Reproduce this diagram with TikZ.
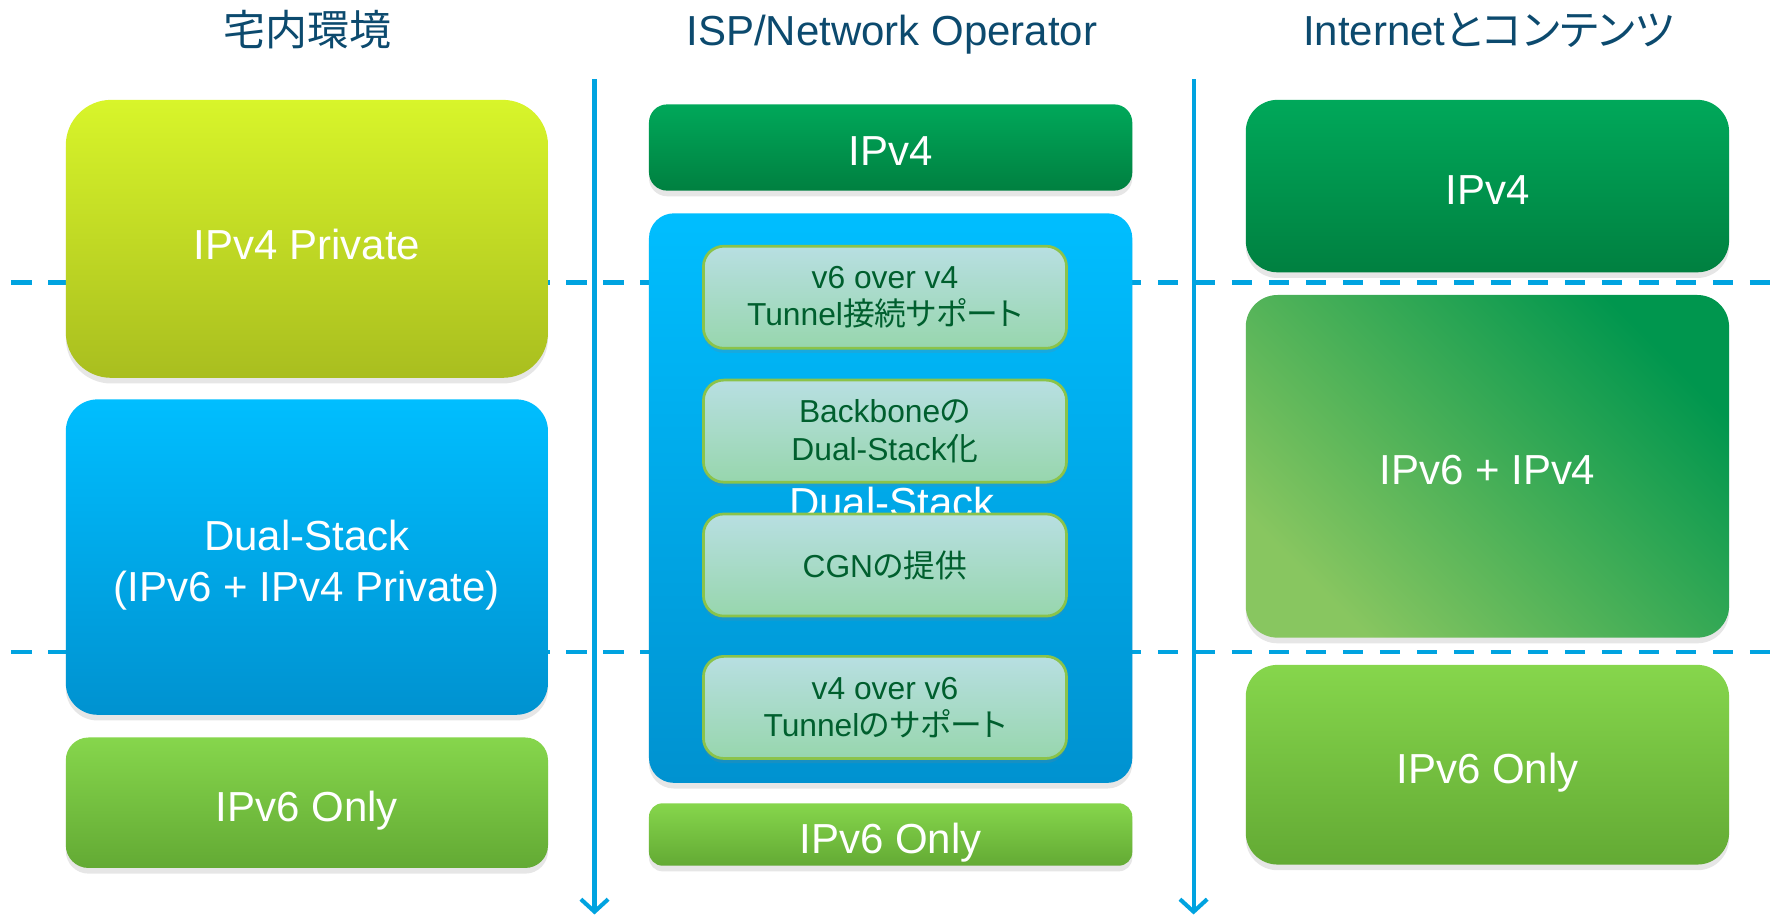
\documentclass[tikz,border=0pt]{standalone}
\usepackage{fontspec}
\setmainfont{Liberation Sans}
\newfontfamily\jp[RawFeature=+palt]{Noto Sans CJK JP}
\usetikzlibrary{arrows.meta,shadows}
\definecolor{titlec}{HTML}{0C4A6E}
\definecolor{linec}{HTML}{00A3E0}
\definecolor{ygtop}{HTML}{D8F52A}
\definecolor{ygbot}{HTML}{A9BE1F}
\definecolor{bltop}{HTML}{00BEFF}
\definecolor{blbot}{HTML}{0092D0}
\definecolor{lgtop}{HTML}{86D64C}
\definecolor{lgbot}{HTML}{63AA34}
\definecolor{dgtop}{HTML}{00A85A}
\definecolor{dgbot}{HTML}{008040}
\definecolor{mixlight}{HTML}{88C660}
\definecolor{mixmid}{HTML}{4CAE5B}
\definecolor{mixdark}{HTML}{00964E}
\definecolor{subtop}{HTML}{B8DFE2}
\definecolor{subbot}{HTML}{97D6AD}
\definecolor{subborder}{HTML}{8BC34A}
\definecolor{subtext}{HTML}{005F2E}
\begin{document}
\begin{tikzpicture}[x=0.5pt,y=-0.5pt,
  box/.style={rectangle, inner sep=0pt,
    drop shadow={shadow xshift=0pt, shadow yshift=-2.5pt, opacity=0.2}},
  lbl/.style={inner sep=0pt, align=center, text=white, text depth=0pt,
    font=\fontsize{18.5}{22.75}\selectfont, yshift=-1.6pt},
  yg/.style={box, top color=ygtop, bottom color=ygbot},
  bl/.style={box, top color=bltop, bottom color=blbot},
  lg/.style={box, top color=lgtop, bottom color=lgbot},
  dg/.style={box, top color=dgtop, bottom color=dgbot},
  mix/.style={box, top color=mixlight, middle color=mixmid, bottom color=mixdark, shading angle=135},
  subbox/.style={rectangle, inner sep=0pt, align=center, text=subtext,
    font=\fontsize{14}{16.5}\selectfont, top color=subtop, bottom color=subbot,
    draw=subborder, line width=1.2pt, rounded corners=9pt,
    minimum width=160pt, minimum height=45pt,
    drop shadow={shadow xshift=0pt, shadow yshift=-2pt, opacity=0.18}},
  title/.style={text=titlec, font=\fontsize{18.5}{22}\selectfont, inner sep=0pt, anchor=base},
  vline/.style={draw=linec, line width=1.8pt, -{Straight Barb[length=5.5pt,width=12pt]}},
  hline/.style={draw=linec, line width=1.8pt, dash pattern=on 9pt off 7.3pt}
]
\useasboundingbox (0,0) rectangle (1568,810);

% titles
\node[title] (t1) at (271,40) {\jp 宅内環境};
\node[title] (t2) at (786,40) {ISP/Network Operator};
\node[title] (t3) at (1312,40) {Internet{\jp とコンテンツ}};

% dashed separators
\coordinate (d1s) at (10,249); \coordinate (d1e) at (1566,249);
\coordinate (d2s) at (10,575); \coordinate (d2e) at (1566,575);
\draw[hline] (d1s) -- (d1e);
\draw[hline] (d2s) -- (d2e);

% vertical arrows
\coordinate (v1s) at (524,70); \coordinate (v1e) at (524,806);
\coordinate (v2s) at (1052,70); \coordinate (v2e) at (1052,806);
\draw[vline] (v1s) -- (v1e);
\draw[vline] (v2s) -- (v2e);

% left column
\node[yg, rounded corners=20pt, minimum width=212.5pt, minimum height=122.5pt] (l1) at (270.5,210.5) {};
\node[lbl, yshift=-0.9pt] (l1t) at (l1.center) {IPv4 Private};
\node[bl, rounded corners=14pt, minimum width=212.5pt, minimum height=139pt] (l2) at (270.5,491) {};
\node[lbl] (l2t) at (l2.center) {Dual-Stack\\(IPv6 + IPv4 Private)};
\node[lg, rounded corners=10pt, minimum width=212.5pt, minimum height=57.5pt] (l3) at (270.5,707.5) {};
\node[lbl] (l3t) at (l3.center) {IPv6 Only};

% middle column
\node[dg, rounded corners=8pt, minimum width=213pt, minimum height=38pt] (m1) at (785,130) {};
\node[lbl] (m1t) at (m1.center) {IPv4};
\node[bl, rounded corners=11pt, minimum width=213pt, minimum height=251pt] (m2) at (785,439) {};
\node[text=white, font=\fontsize{18.5}{22}\selectfont, inner sep=0pt, anchor=base] (m2t) at (786,456) {Dual-Stack};
\node[lg, rounded corners=6pt, minimum width=213pt, minimum height=27.5pt] (m3) at (785,735.5) {};
\node[lbl] (m3t) at (m3.center) {IPv6 Only};

\node[subbox] (s1) at (780,262) {v6 over v4\\Tunnel{\jp 接続サポート}};
\node[subbox] (s2) at (780,380) {Backbone{\jp の}\\Dual-Stack{\jp 化}};
\node[subbox] (s3) at (780,498) {CGN{\jp の提供}};
\node[subbox] (s4) at (780,623.5) {v4 over v6\\Tunnel{\jp のサポート}};

% right column
\node[dg, rounded corners=14pt, minimum width=213pt, minimum height=76pt] (r1) at (1311,164) {};
\node[lbl] (r1t) at (r1.center) {IPv4};
\node[mix, rounded corners=14pt, minimum width=213pt, minimum height=151pt] (r2) at (1311,411) {};
\node[lbl] (r2t) at (r2.center) {IPv6 + IPv4};
\node[lg, rounded corners=14pt, minimum width=213pt, minimum height=88pt] (r3) at (1311,674) {};
\node[lbl] (r3t) at (r3.center) {IPv6 Only};
\end{tikzpicture}
\end{document}
